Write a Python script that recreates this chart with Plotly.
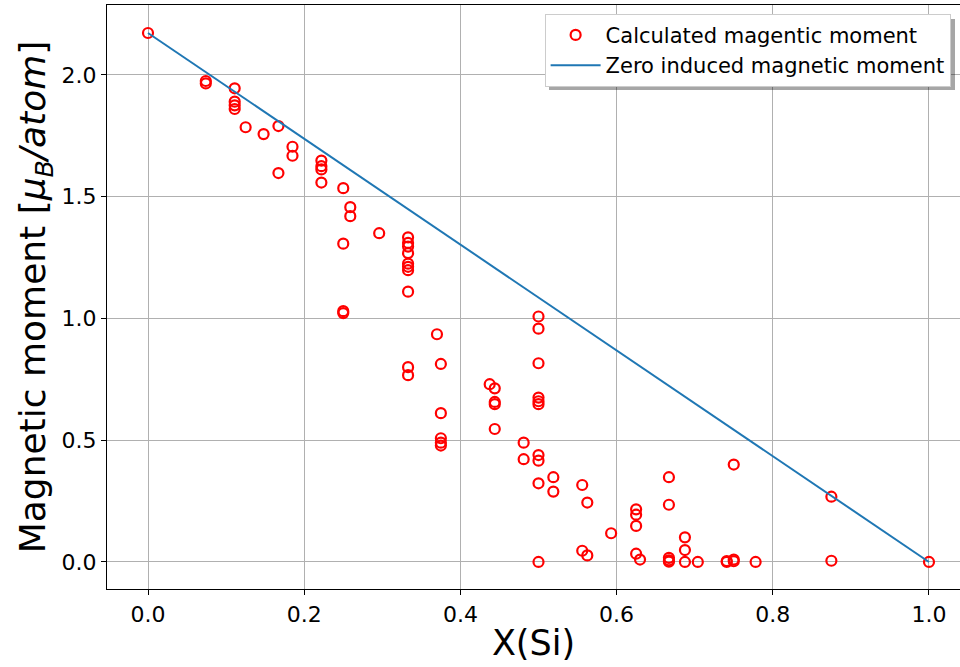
import plotly.graph_objects as go

# Calculated magnetic moment (x = Si fraction, y = moment in muB/atom)
x_calc = [
    0.0,
    0.074, 0.074,
    0.111, 0.111, 0.111, 0.111,
    0.125, 0.148,
    0.167, 0.167,
    0.185, 0.185,
    0.222, 0.222, 0.222, 0.222,
    0.25, 0.25, 0.25, 0.25,
    0.259, 0.259,
    0.296,
    0.333, 0.333, 0.333, 0.333, 0.333, 0.333, 0.333, 0.333, 0.333, 0.333,
    0.370,
    0.375, 0.375, 0.375, 0.375, 0.375,
    0.4375,
    0.444, 0.444, 0.444, 0.444,
    0.481, 0.481,
    0.5, 0.5, 0.5, 0.5, 0.5, 0.5, 0.5, 0.5, 0.5, 0.5,
    0.519, 0.519,
    0.556, 0.556,
    0.5625, 0.5625,
    0.593,
    0.625, 0.625, 0.625, 0.625,
    0.630,
    0.667, 0.667, 0.667, 0.667, 0.667,
    0.6875, 0.6875, 0.6875,
    0.704,
    0.741, 0.741,
    0.75, 0.75, 0.75,
    0.778,
    0.875, 0.875,
    1.0,
]
y_calc = [
    2.172,
    1.975, 1.965,
    1.945, 1.89, 1.875, 1.86,
    1.785, 1.757,
    1.79, 1.597,
    1.705, 1.668,
    1.648, 1.625, 1.612, 1.558,
    1.535, 1.307, 1.03, 1.022,
    1.457, 1.42,
    1.35,
    1.333, 1.31, 1.295, 1.268, 1.225, 1.212, 1.198, 1.11, 0.80, 0.767,
    0.935,
    0.813, 0.611, 0.508, 0.49, 0.478,
    0.73,
    0.713, 0.657, 0.648, 0.546,
    0.49, 0.422,
    1.008, 0.958, 0.816, 0.675, 0.66, 0.648, 0.439, 0.416, 0.323, 0.0,
    0.348, 0.289,
    0.316, 0.046,
    0.244, 0.027,
    0.118,
    0.216, 0.194, 0.148, 0.034,
    0.01,
    0.348, 0.235, 0.017, 0.007, 0.001,
    0.101, 0.049, 0.0,
    0.0,
    0.0, 0.004,
    0.40, 0.01, 0.003,
    0.0,
    0.268, 0.005,
    0.0,
]

# Zero induced magnetic moment line
x_line = [0.0, 1.0]
y_line = [2.172, 0.0]

fig = go.Figure()
fig.add_trace(go.Scatter(
    x=x_calc, y=y_calc, mode="markers", name="Calculated magentic moment",
    marker=dict(symbol="circle-open", size=10, color="#ff0000",
                line=dict(color="#ff0000", width=2.2)),
))
fig.add_trace(go.Scatter(
    x=x_line, y=y_line, mode="lines", name="Zero induced magnetic moment",
    line=dict(color="#1f77b4", width=2),
))

font_family = "DejaVu Sans"
L, R, T, B, W, H = 107, 0, 5, 78, 960, 667
pw, ph = W - L - R, H - T - B


def px_x(p):
    return (p - L) / pw


def px_y(p):
    return (H - B - p) / ph


# legend drop shadow (paper coordinates)
fig.add_shape(
    type="rect", xref="paper", yref="paper", layer="above",
    x0=px_x(549), x1=px_x(955), y0=px_y(90), y1=px_y(19),
    fillcolor="rgba(0,0,0,0.35)", line=dict(width=0),
)

fig.update_layout(
    width=W, height=H,
    margin=dict(l=L, r=R, t=T, b=B),
    paper_bgcolor="white", plot_bgcolor="white",
    font=dict(family=font_family, color="black"),
    showlegend=True,
    legend=dict(
        x=0.989, y=0.985, xanchor="right", yanchor="top",
        bgcolor="white", bordercolor="#cccccc", borderwidth=1,
        font=dict(size=21, family=font_family),
        tracegroupgap=0, itemwidth=50,
    ),
)
fig.update_xaxes(
    range=[-0.0525, 1.0397], tickmode="linear", tick0=0, dtick=0.2, tickformat=".1f",
    showgrid=True, gridcolor="#b0b0b0", gridwidth=1, zeroline=False,
    showline=True, linecolor="black", linewidth=1.2, mirror=True,
    ticks="outside", ticklen=5, tickcolor="black",
    tickfont=dict(size=22),
    title=dict(text="X(Si)", font=dict(size=35), standoff=4),
)
fig.update_yaxes(
    range=[-0.111, 2.287], tickmode="linear", tick0=0, dtick=0.5, tickformat=".1f",
    showgrid=True, gridcolor="#b0b0b0", gridwidth=1, zeroline=False,
    showline=True, linecolor="black", linewidth=1.2, mirror=False,
    ticks="outside", ticklen=5, tickcolor="black",
    tickfont=dict(size=22),
    title=dict(text="Magnetic moment [<i>μ<sub>B</sub>/atom</i>]", font=dict(size=36), standoff=4),
)

fig.write_html("out.html")
